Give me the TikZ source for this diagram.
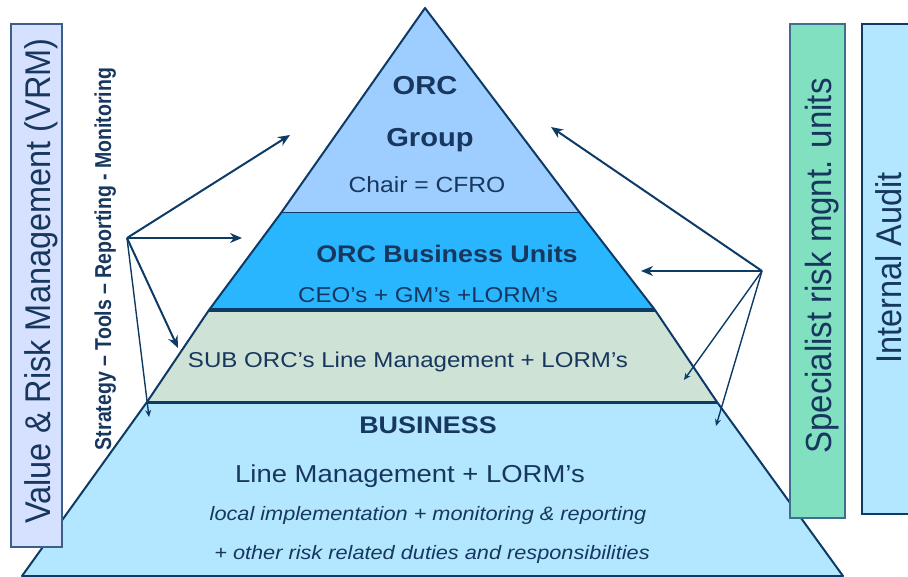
\documentclass[tikz,border=0pt]{standalone}
\usepackage{fontspec}
\usepackage{graphicx}
\setmainfont{Liberation Sans}[FakeStretch=1.12]
\newfontfamily\vfont{Liberation Sans}
\usetikzlibrary{arrows.meta}
\definecolor{navy}{HTML}{0D3B66}
\definecolor{txtnavy}{HTML}{17375E}
\definecolor{bandA}{HTML}{9DCEFF}
\definecolor{bandB}{HTML}{29B6FF}
\definecolor{bandC}{HTML}{CFE2D6}
\definecolor{bandD}{HTML}{B3E6FF}
\definecolor{vrmfill}{HTML}{D6E1FF}
\definecolor{vrmline}{HTML}{3C5F8A}
\definecolor{specfill}{HTML}{80E0C0}
\definecolor{specline}{HTML}{3F6E8E}
\newcommand\fsz[1]{\fontsize{#1}{#1}\selectfont}
\tikzset{
  txt/.style={text=txtnavy, inner sep=0pt, anchor=base},
  vtxt/.style={text=txtnavy, inner sep=0pt, rotate=90, anchor=base},
  sidebox/.style={line width=1.5pt},
  bigarr/.style={draw=navy, line width=2pt, -{Stealth[length=12pt,width=10pt]}},
  smallarr/.style={draw=navy, line width=1.4pt, -{Stealth[length=7pt,width=6pt]}},
}
\begin{document}
\begin{tikzpicture}[x=1pt,y=-1pt]
\useasboundingbox (0,0) rectangle (908,577);
% pyramid bands
\fill[bandA] (425,8) -- (580,213) -- (281,213) -- cycle;
\fill[bandB] (281,213) -- (580,213) -- (655,310) -- (209,310) -- cycle;
\fill[bandC] (209,310) -- (655,310) -- (717,402) -- (147,402) -- cycle;
\fill[bandD] (147,402) -- (717,402) -- (843,576) -- (22,576) -- cycle;
\draw[navy, line width=1pt] (281,213) -- (580,213);
\draw[navy, line width=3.5pt] (209,310) -- (655,310);
\draw[navy, line width=3pt] (147,402) -- (717,402);
\draw[navy, line width=2pt, line join=round] (425,8) -- (580,213) -- (655,310) -- (717,402) -- (843,576) -- (22,576) -- (147,402) -- (209,310) -- (281,213) -- cycle;
% side boxes
\draw[sidebox, draw=vrmline, fill=vrmfill] (11,24) rectangle (62,547);
\draw[sidebox, draw=specline, fill=specfill] (790,24) rectangle (845,518);
\draw[sidebox, draw=navy, fill=bandD] (862,24) rectangle (915,514);
\node[vtxt] (vrm) at (50,281) {\scalebox{1}[1.1]{\vfont\fsz{32.5}Value \& Risk Management (VRM)}};
\node[vtxt] (spec) at (831,266) {\scalebox{1}[1.1]{\vfont\fsz{33}Specialist risk mgnt. units}};
\node[vtxt] (audit) at (901,268) {\scalebox{1}[1.1]{\vfont\fsz{32.5}Internal Audit}};
\node[vtxt] (strat) at (111,259) {\scalebox{1}[1.18]{\vfont\fsz{19.5}\bfseries Strategy – Tools – Reporting - Monitoring}};
% pyramid texts
\node[txt] (orc) at (425,95) {\fsz{26}\bfseries ORC};
\node[txt] (group) at (430,147) {\fsz{26}\bfseries Group};
\node[txt] (chair) at (427,193) {\fsz{22}Chair = CFRO};
\node[txt] (orcbu) at (447,263) {\fsz{24}\bfseries ORC Business Units};
\node[txt] (ceo) at (428,303) {\fsz{21.5}CEO’s + GM’s +LORM’s};
\node[txt] (sub) at (408,368) {\fsz{21.5}SUB ORC’s Line Management + LORM’s};
\node[txt] (bus) at (428,433) {\fsz{24}\bfseries BUSINESS};
\node[txt] (lm) at (410,482) {\fsz{24.5}Line Management + LORM’s};
\node[txt] (local) at (428,520) {\fsz{19.4}\itshape local implementation + monitoring \& reporting};
\node[txt] (other) at (432,559) {\fsz{19.4}\itshape + other risk related duties and responsibilities};
% arrows
\coordinate (lhub) at (127,238);
\coordinate (la1) at (290,135);
\coordinate (la2) at (242,238);
\coordinate (la3) at (178,348);
\coordinate (la4) at (149,417);
\coordinate (rhub) at (762,271);
\coordinate (ra1) at (551,127);
\coordinate (ra2) at (641,271);
\coordinate (ra3) at (684,380);
\coordinate (ra4) at (716,426);
\draw[bigarr] (lhub) -- (la1);
\draw[bigarr] (lhub) -- (la2);
\draw[bigarr] (lhub) -- (la3);
\draw[smallarr] (lhub) -- (la4);
\draw[bigarr] (rhub) -- (ra1);
\draw[bigarr] (rhub) -- (ra2);
\draw[smallarr] (rhub) -- (ra3);
\draw[smallarr] (rhub) -- (ra4);
\end{tikzpicture}
\end{document}
